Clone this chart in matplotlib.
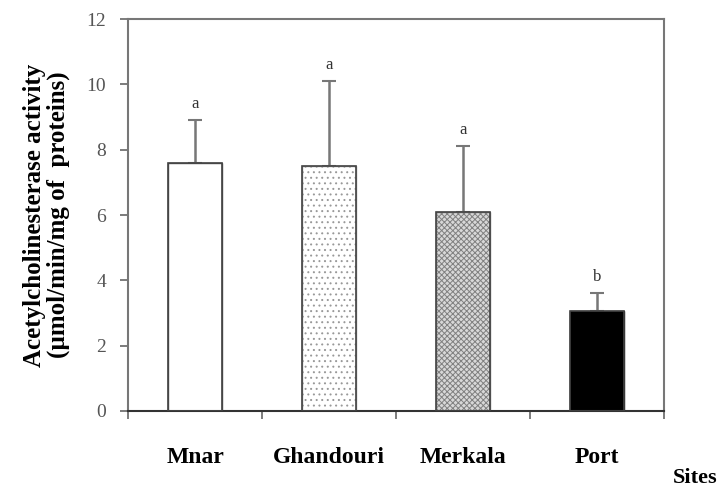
import matplotlib.pyplot as plt
import numpy as np

sites = ['Mnar', 'Ghandouri', 'Merkala', 'Port']
activity = [7.6, 7.5, 6.1, 3.05]
sd = [1.3, 2.6, 2.0, 0.55]
letters = ['a', 'a', 'a', 'b']

plt.rcParams['font.family'] = ['Liberation Serif', 'DejaVu Serif']
plt.rcParams['hatch.linewidth'] = 0.7

fig = plt.figure(figsize=(7.2, 4.91), dpi=100)
ax = fig.add_axes([0.178, 0.163, 0.744, 0.798])

x = np.arange(len(sites))
faces = ['white', 'white', '#d8d8d8', 'black']
hatches = [None, '...', 'xxxxxx', None]
hatch_cols = ['#555555', '#999999', '#808080', 'black']

for i in range(len(sites)):
    ax.bar(x[i], activity[i], width=0.4, color=faces[i], hatch=hatches[i],
           edgecolor=hatch_cols[i], linewidth=1.0, zorder=2)
    ax.bar(x[i], activity[i], width=0.4, color='none', edgecolor='#444444',
           linewidth=1.2, zorder=3)
    # upper error bar only
    ax.errorbar(x[i], activity[i], yerr=[[0], [sd[i]]], fmt='none',
                ecolor='#777777', elinewidth=1.8, capsize=5, capthick=1.5, zorder=1)
    ax.text(x[i], activity[i] + sd[i] + 0.25, letters[i], ha='center', va='bottom',
            fontsize=12, color='#333333')

ax.set_xlim(-0.5, 3.5)
ax.set_ylim(0, 12)
ax.set_yticks(range(0, 13, 2))
ax.set_xticks(x)
ax.set_xticklabels(sites, fontsize=17, fontweight='bold')
ax.set_xticks(np.arange(-0.5, 3.6, 1), minor=True)
ax.tick_params(axis='x', which='major', length=0, pad=26)
ax.tick_params(axis='x', which='minor', length=6, width=1.2, color='#666666')
ax.tick_params(axis='y', length=6, width=1.2, color='#666666', labelsize=14,
               labelcolor='#555555', pad=10)

for s in ax.spines.values():
    s.set_color('#777777')
    s.set_linewidth(1.5)
ax.spines['bottom'].set_color('#333333')

ax.set_ylabel('Acetylcholinesterase activity\n(µmol/min/mg of  proteins)',
              fontsize=18, fontweight='bold', labelpad=12, linespacing=1.0)
fig.text(0.965, 0.026, 'Sites', fontsize=16, fontweight='bold', ha='center', va='center')

plt.savefig('out.png', dpi=100)
